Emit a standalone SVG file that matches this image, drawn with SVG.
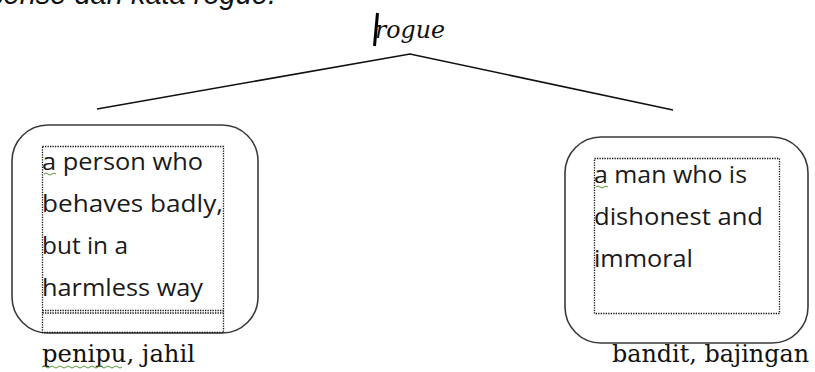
<svg xmlns="http://www.w3.org/2000/svg" width="815" height="372" viewBox="0 0 815 372">
<style>
.box{fill:#fff;stroke:#3a3a3a;stroke-width:1.6}
.dot{fill:none;stroke:#111;stroke-width:1.3;stroke-dasharray:1.3 1.2}
.body{font-family:"Open Sans","Lato",sans-serif;font-size:23px;fill:#1a1a1a}
.ser{font-family:"DejaVu Serif","Liberation Serif",serif;font-size:24px;fill:#111}
.conn{fill:none;stroke:#111;stroke-width:1.6}
.sq{fill:none;stroke:#5a9a3a;stroke-width:1}
</style>
<rect width="815" height="372" fill="#fff"/>
<text x="276" y="4" text-anchor="end" font-family="Liberation Sans,Arial,sans-serif" font-style="italic" font-size="29" fill="#111">sense dan kata rogue.</text>
<g id="root">
<text x="375" y="38" class="ser" font-style="italic" font-size="24" textLength="70" lengthAdjust="spacingAndGlyphs">rogue</text>
<line x1="377.5" y1="13" x2="374.5" y2="46" stroke="#000" stroke-width="3"/>
</g>
<g id="connectors">
<polyline class="conn" points="97,109 410,54 673,110"/>
</g>
<g id="left">
<rect class="box" x="12" y="125" width="246" height="208" rx="36" ry="36"/>
<rect class="dot" x="42.5" y="146.5" width="181" height="186"/>
<line class="dot" x1="42.5" y1="310.5" x2="223.5" y2="310.5"/>
<line class="dot" x1="42.5" y1="313" x2="223.5" y2="313"/>
<text class="body" x="42" y="170" textLength="161" lengthAdjust="spacingAndGlyphs">a person who</text>
<text class="body" x="42" y="212" textLength="181" lengthAdjust="spacingAndGlyphs">behaves badly,</text>
<text class="body" x="42" y="254" textLength="86" lengthAdjust="spacingAndGlyphs">but in a</text>
<text class="body" x="42" y="296" textLength="161" lengthAdjust="spacingAndGlyphs">harmless way</text>
<path class="sq" d="M44,174 q2,-2 4,0 q2,2 4,0 q2,-2 4,0"/>
<text class="ser" x="42" y="362" textLength="153" lengthAdjust="spacingAndGlyphs">penipu, jahil</text>
<path class="sq" d="M42,367 q2,-2 4,0 q2,2 4,0 q2,-2 4,0 q2,2 4,0 q2,-2 4,0 q2,2 4,0 q2,-2 4,0 q2,2 4,0 q2,-2 4,0 q2,2 4,0 q2,-2 4,0 q2,2 4,0 q2,-2 4,0 q2,2 4,0 q2,-2 4,0 q2,2 4,0 q2,-2 4,0 q2,2 4,0 q2,-2 4,0 q2,2 4,0"/>
</g>
<g id="right">
<rect class="box" x="565" y="137" width="243" height="206" rx="36" ry="36"/>
<rect class="dot" x="594.5" y="158.5" width="185" height="155"/>
<text class="body" x="594" y="183" textLength="153" lengthAdjust="spacingAndGlyphs">a man who is</text>
<text class="body" x="594" y="225" textLength="169" lengthAdjust="spacingAndGlyphs">dishonest and</text>
<text class="body" x="594" y="267" textLength="99" lengthAdjust="spacingAndGlyphs">immoral</text>
<path class="sq" d="M596,187 q2,-2 4,0 q2,2 4,0 q2,-2 4,0"/>
<text class="ser" x="612" y="362" textLength="197" lengthAdjust="spacingAndGlyphs">bandit, bajingan</text>
</g>
</svg>
